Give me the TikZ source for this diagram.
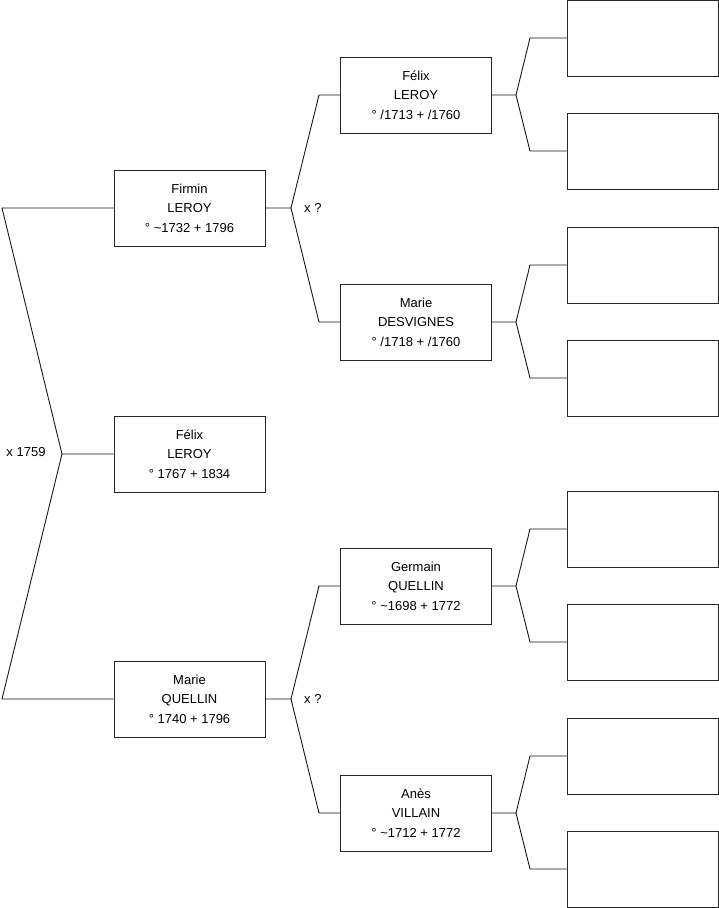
\documentclass[tikz,border=0pt]{standalone}
\usepackage{fontspec}
\setmainfont{Liberation Sans}
\begin{document}
\begin{tikzpicture}[x=1pt,y=-1pt,
    person/.style={draw=black!85,line width=0.9pt,minimum width=151pt,minimum height=76pt,inner sep=0pt,align=center,font=\fontsize{13}{19.5}\selectfont},
    link/.style={draw=black!90,line width=0.9pt},
    union/.style={font=\fontsize{13}{15}\selectfont}
]
\useasboundingbox (0,0) rectangle (719,908);

% generation 0 and 1
\node[person] (felix)   at (189.5,454) {Félix\\LEROY\\° 1767 + 1834};
\node[person] (firmin)  at (189.5,208) {Firmin\\LEROY\\° \textasciitilde1732 + 1796};
\node[person] (marieq)  at (189.5,699) {Marie\\QUELLIN\\° 1740 + 1796};

% generation 2
\node[person] (felixb)  at (416,95)  {Félix\\LEROY\\° /1713 + /1760};
\node[person] (maried)  at (416,322) {Marie\\DESVIGNES\\° /1718 + /1760};
\node[person] (germain) at (416,586) {Germain\\QUELLIN\\° \textasciitilde1698 + 1772};
\node[person] (anes)    at (416,813) {Anès\\VILLAIN\\° \textasciitilde1712 + 1772};

% generation 3 (unknown)
\node[person] (e1) at (642.5,38)  {};
\node[person] (e2) at (642.5,151) {};
\node[person] (e3) at (642.5,265) {};
\node[person] (e4) at (642.5,378) {};
\node[person] (e5) at (642.5,529) {};
\node[person] (e6) at (642.5,642) {};
\node[person] (e7) at (642.5,756) {};
\node[person] (e8) at (642.5,869) {};

% forks
\coordinate (j0) at (62,454);  \coordinate (a0) at (2,208);   \coordinate (b0) at (2,699);
\coordinate (j1) at (291,208); \coordinate (a1) at (319,95);  \coordinate (b1) at (319,322);
\coordinate (j2) at (291,699); \coordinate (a2) at (319,586); \coordinate (b2) at (319,813);
\coordinate (j3) at (516,95);  \coordinate (a3) at (530,38);  \coordinate (b3) at (530,151);
\coordinate (j4) at (516,322); \coordinate (a4) at (530,265); \coordinate (b4) at (530,378);
\coordinate (j5) at (516,586); \coordinate (a5) at (530,529); \coordinate (b5) at (530,642);
\coordinate (j6) at (516,813); \coordinate (a6) at (530,756); \coordinate (b6) at (530,869);

\draw[link] (felix.west) -- (j0) -- (a0) -- (firmin.west);
\draw[link] (j0) -- (b0) -- (marieq.west);
\draw[link] (firmin.east) -- (j1) -- (a1) -- (felixb.west);
\draw[link] (j1) -- (b1) -- (maried.west);
\draw[link] (marieq.east) -- (j2) -- (a2) -- (germain.west);
\draw[link] (j2) -- (b2) -- (anes.west);
\draw[link] (felixb.east) -- (j3) -- (a3) -- (e1.west);
\draw[link] (j3) -- (b3) -- (e2.west);
\draw[link] (maried.east) -- (j4) -- (a4) -- (e3.west);
\draw[link] (j4) -- (b4) -- (e4.west);
\draw[link] (germain.east) -- (j5) -- (a5) -- (e5.west);
\draw[link] (j5) -- (b5) -- (e6.west);
\draw[link] (anes.east) -- (j6) -- (a6) -- (e7.west);
\draw[link] (j6) -- (b6) -- (e8.west);

\node[union] (m0) at (26,452) {x 1759};
\node[union,anchor=west,inner sep=0pt] (m1) at (304,208) {x ?};
\node[union,anchor=west,inner sep=0pt] (m2) at (304,699) {x ?};
\end{tikzpicture}
\end{document}
